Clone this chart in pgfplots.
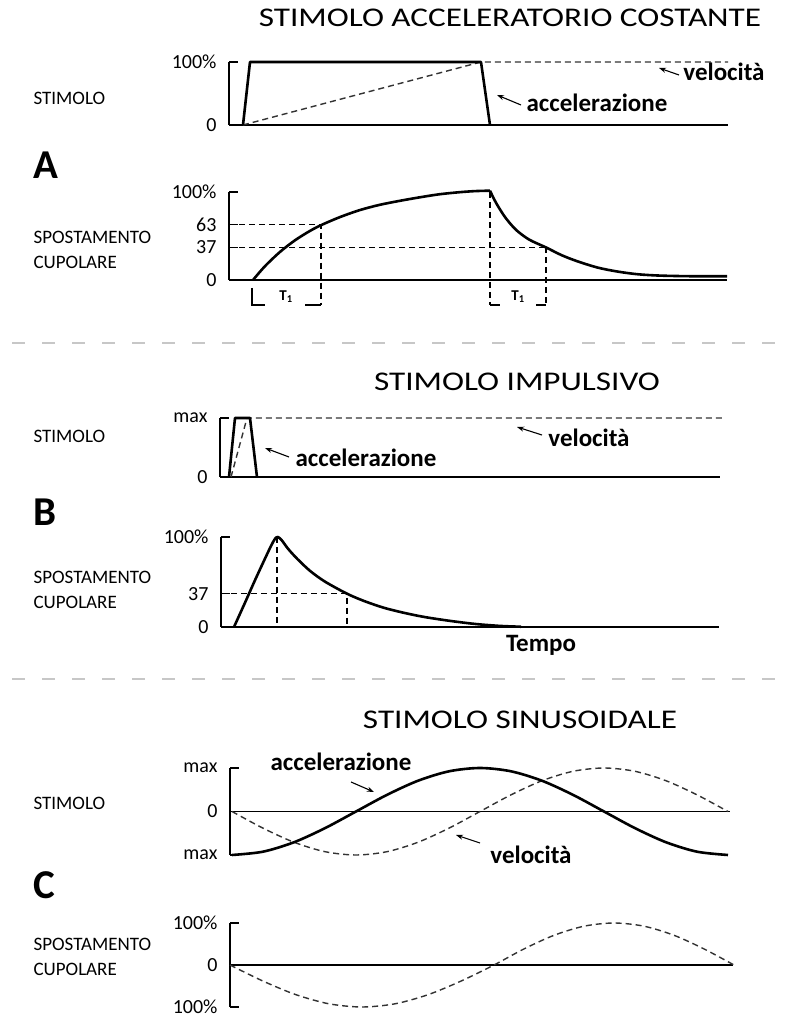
\documentclass[border=0pt]{standalone}
\usepackage{pgfplots}
\pgfplotsset{compat=1.18}
\usepackage{fontspec}
\setmainfont{Carlito}
\usetikzlibrary{arrows.meta}
\newcommand{\fs}[1]{\fontsize{#1}{#1}\selectfont}
\pgfplotsset{
  noarrows/.style={
    axis line style={line width=1.8pt,-},
    every outer x axis line/.append style={-},
    every outer y axis line/.append style={-},
    every inner x axis line/.append style={-},
    every inner y axis line/.append style={-},
    x axis line style={-}, y axis line style={-},
    ytick align=inside, major tick length=9pt,
    ytick style={line width=1.6pt, black},
  },
  base/.style={scale only axis, clip=false, enlargelimits=false, xtick=\empty,
    yticklabel style={font=\fs{20}, xshift=-9pt},
  },
  ab/.style={base, axis x line=bottom, axis y line=left, noarrows},
  cc/.style={base, axis x line=middle, axis y line=left, noarrows, x axis line style={line width=1.3pt}},
}
\tikzset{
  curve/.style={black, line width=2.6pt, line join=round},
  vel/.style={black!80, line width=1.4pt, dash pattern=on 6pt off 4pt},
  guide/.style={black, line width=1.3pt, dash pattern=on 6pt off 4pt},
  arr/.style={line width=1.1pt, -{Stealth[length=7pt,width=5pt]}},
}
\begin{document}
\begin{tikzpicture}
\useasboundingbox (0,0) rectangle (790pt,1018pt);
\fill[white] (0,0) rectangle (790pt,1018pt);

% separators
\draw[black!22, line width=2pt, dash pattern=on 13pt off 17pt] (12pt,675pt) -- (790pt,675pt);
\draw[black!22, line width=2pt, dash pattern=on 13pt off 17pt] (12pt,339pt) -- (790pt,339pt);

% ===== Panel A: stimulus =====
\begin{axis}[ab, at={(229pt,893pt)}, anchor=south west, width=499pt, height=63pt,
  xmin=229, xmax=728, ymin=0, ymax=100, ytick={0,100}, yticklabels={0,100\%}]
\addplot[vel] coordinates {(243,0) (481,100) (728,100)};
\addplot[curve] coordinates {(243,0) (250,100) (481,100) (490,0)};
\end{axis}
\draw[arr] (679pt,943pt) -- (659pt,950pt);
\node[font=\fs{25}\bfseries] at (724pt,946pt) {velocità};
\draw[arr] (521pt,913pt) -- (497pt,923pt);
\node[font=\fs{25}\bfseries] at (597pt,915pt) {accelerazione};

% ===== Panel A: displacement =====
\begin{axis}[ab, at={(229pt,738pt)}, anchor=south west, width=498pt, height=88pt,
  xmin=229, xmax=727, ymin=0, ymax=100, ytick={0,37,63,100}, yticklabels={0,37,63,100\%}]
\draw[guide] (axis cs:229,63) -- (axis cs:321,63) -- (axis cs:321,-28.4);
\draw[guide] (axis cs:229,37) -- (axis cs:546,37);
\draw[guide] (axis cs:546,37) -- (axis cs:546,-28.4);
\draw[guide] (axis cs:490,100) -- (axis cs:490,-28.4);
\draw[line width=1.3pt] (axis cs:252,-9) -- (axis cs:252,-28.4) -- (axis cs:265,-28.4);
\draw[line width=1.3pt] (axis cs:305,-28.4) -- (axis cs:321,-28.4);
\draw[line width=1.3pt] (axis cs:490,-28.4) -- (axis cs:500,-28.4);
\draw[line width=1.3pt] (axis cs:536,-28.4) -- (axis cs:546,-28.4);
\node[font=\fs{15}\bfseries] at (axis cs:286,-19) {T\textsubscript{1}};
\node[font=\fs{15}\bfseries] at (axis cs:518,-19) {T\textsubscript{1}};
\addplot[curve, smooth] coordinates {(253,0) (265,15.7) (280,31.9) (295,45.1) (310,55.8) (322,62.8) (340,71.5) (360,79.5) (380,85.5) (400,90) (420,94) (440,97.5) (460,99.8) (475,101) (490,101.5)};
\addplot[curve, smooth] coordinates {(490,101.5) (494,92) (499,82) (506,70) (516,57) (529,46) (546,37) (562,28) (578,21) (598,14) (618,9.5) (638,6.5) (660,5) (690,4.3) (727,4.2)};
\end{axis}

% ===== Panel B: stimulus =====
\begin{axis}[ab, at={(220pt,541pt)}, anchor=south west, width=500pt, height=59pt,
  xmin=220, xmax=720, ymin=0, ymax=100, ytick={0,100}, yticklabels={0,max}]
\addplot[vel] coordinates {(231,0) (247,100) (724,100)};
\addplot[curve] coordinates {(229,0) (235,100) (250,100) (257,0)};
\end{axis}
\draw[arr] (542pt,583pt) -- (517pt,591pt);
\node[font=\fs{25}\bfseries] at (589pt,580pt) {velocità};
\draw[arr] (289pt,561pt) -- (265pt,570pt);
\node[font=\fs{25}\bfseries] at (366pt,560pt) {accelerazione};

% ===== Panel B: displacement =====
\begin{axis}[ab, at={(221pt,391pt)}, anchor=south west, width=498pt, height=90pt,
  xmin=221, xmax=719, ymin=0, ymax=100, ytick={0,37,100}, yticklabels={0,37,100\%}]
\draw[guide] (axis cs:221,37) -- (axis cs:347,37) -- (axis cs:347,0);
\draw[guide] (axis cs:277,100) -- (axis cs:277,0);
\addplot[curve, smooth] coordinates {(234,0) (245,27) (255,52) (265,76) (271,90) (275,98) (278,100) (282,96) (288,87) (297,76) (310,62.4) (325,50.4) (347,37) (365,28.5) (385,21) (405,15.5) (425,11) (450,6.8) (475,3.4) (500,1.2) (521,0.3)};
\end{axis}
\node[font=\fs{25}\bfseries] at (541pt,373pt) {Tempo};

% ===== Panel C: stimulus =====
\begin{axis}[cc, at={(230pt,163pt)}, anchor=south west, width=500pt, height=87pt,
  xmin=230, xmax=730, ymin=-1, ymax=1, ytick={-1,0,1}, yticklabels={max,0,max}]
\addplot[vel, smooth] coordinates {(232,0) (263,-0.383) (294,-0.707) (325,-0.924) (356,-1) (387,-0.924) (418,-0.707) (449,-0.383) (480,0) (511,0.383) (542,0.707) (573,0.924) (604,1) (635,0.924) (666,0.707) (697,0.383) (728,0)};
\addplot[curve, smooth] coordinates {(232,-1) (263,-0.924) (294,-0.707) (325,-0.383) (356,0) (387,0.383) (418,0.707) (449,0.924) (480,1) (511,0.924) (542,0.707) (573,0.383) (604,0) (635,-0.383) (666,-0.707) (697,-0.924) (728,-1)};
\end{axis}
\draw[arr] (351pt,236pt) -- (374pt,226pt);
\node[font=\fs{25}\bfseries] at (341pt,256pt) {accelerazione};
\draw[arr] (480pt,175pt) -- (456pt,183pt);
\node[font=\fs{25}\bfseries] at (531pt,163pt) {velocità};

% ===== Panel C: displacement =====
\begin{axis}[cc, at={(230pt,11pt)}, anchor=south west, width=503pt, height=84pt,
  xmin=230, xmax=733, ymin=-1, ymax=1, ytick={-1,0,1}, yticklabels={100\%,0,100\%}]
\addplot[vel, smooth] coordinates {(230,0) (263,-0.383) (296,-0.707) (329,-0.924) (362,-1) (395,-0.924) (428,-0.707) (461,-0.383) (494,0) (524,0.383) (554,0.707) (584,0.924) (614,1) (644,0.924) (674,0.707) (704,0.383) (734,0)};
\end{axis}

% ===== Titles =====
\node[font=\fs{27}] at (510pt,1000pt) {\scalebox{1.23}[1]{STIMOLO ACCELERATORIO COSTANTE}};
\node[font=\fs{27}] at (517pt,636pt) {\scalebox{1.23}[1]{STIMOLO IMPULSIVO}};
\node[font=\fs{27}] at (520pt,298pt) {\scalebox{1.23}[1]{STIMOLO SINUSOIDALE}};

% ===== Left labels =====
\node[anchor=west, font=\fs{19}] at (30pt,920pt) {STIMOLO};
\node[anchor=west, font=\fs{19}, align=left] at (30pt,768pt) {SPOSTAMENTO\\[6pt]CUPOLARE};
\node[anchor=west, font=\fs{19}] at (30pt,582pt) {STIMOLO};
\node[anchor=west, font=\fs{19}, align=left] at (30pt,428pt) {SPOSTAMENTO\\[6pt]CUPOLARE};
\node[anchor=west, font=\fs{19}] at (30pt,215pt) {STIMOLO};
\node[anchor=west, font=\fs{19}, align=left] at (30pt,61pt) {SPOSTAMENTO\\[6pt]CUPOLARE};

% ===== Panel letters =====
\node[anchor=west, font=\fs{41}\bfseries] at (30pt,853pt) {A};
\node[anchor=west, font=\fs{41}\bfseries] at (30pt,506pt) {B};
\node[anchor=west, font=\fs{41}\bfseries] at (30pt,133pt) {C};
\end{tikzpicture}
\end{document}
